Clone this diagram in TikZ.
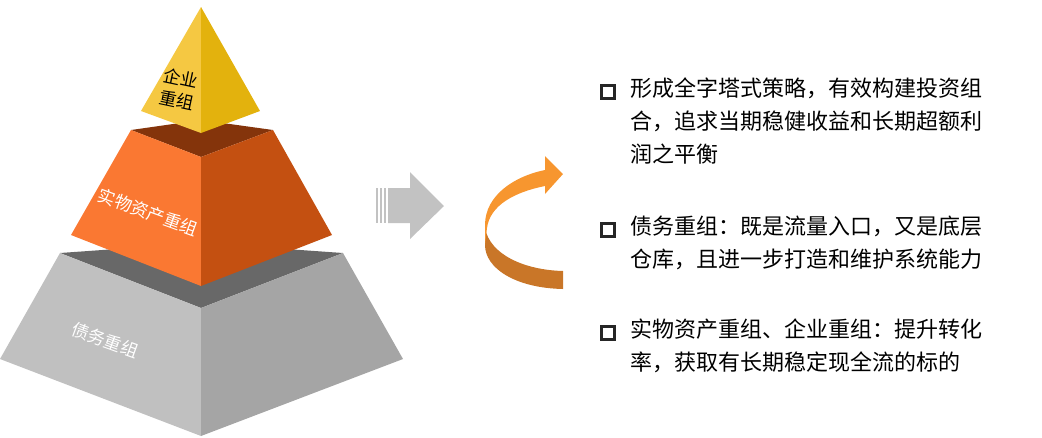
\documentclass[tikz,border=0pt]{standalone}
\usepackage{fontspec}
\newfontfamily\cjk{Noto Sans CJK SC}
\usetikzlibrary{positioning}
\definecolor{topL}{HTML}{F5C842}
\definecolor{topR}{HTML}{E3B20D}
\definecolor{midL}{HTML}{FA7832}
\definecolor{midR}{HTML}{C45011}
\definecolor{midD}{HTML}{84340B}
\definecolor{lowL}{HTML}{C0C0C0}
\definecolor{lowR}{HTML}{A5A5A5}
\definecolor{lowD}{HTML}{686868}
\definecolor{arrG}{HTML}{C2C2C2}
\definecolor{ringA}{HTML}{F7962F}
\definecolor{ringB}{HTML}{C97628}
\tikzset{
  layerlabel/.style={font=\cjk\fontsize{13}{17}\selectfont, align=center},
  point/.style={font=\cjk\fontsize{16.5}{25}\selectfont, align=left, anchor=north west, inner sep=0pt},
  tick/.style={draw=black!85, line width=2pt, minimum size=10pt, inner sep=0pt, anchor=center}
}
\begin{document}
\begin{tikzpicture}[x=0.75pt,y=-0.75pt]
  \useasboundingbox (0,0) rectangle (1042,437);

  % Bottom layer.
  \fill[lowD] (60,253) -- (201,243) -- (343,253) -- (201,308) -- cycle;
  \fill[lowL] (60,253) -- (201,308) -- (201,436) -- (0,359) -- cycle;
  \fill[lowR] (343,253) -- (201,308) -- (201,436) -- (403,359) -- cycle;

  % Middle layer.
  \fill[midD] (131,130) -- (201,120) -- (273,130) -- (201,157) -- cycle;
  \fill[midL] (131,130) -- (201,157) -- (201,286) -- (71,235) -- cycle;
  \fill[midR] (273,130) -- (201,157) -- (201,286) -- (332,235) -- cycle;

  % Top layer.
  \fill[topL] (201,7) -- (201,133) -- (141,111) -- cycle;
  \fill[topR] (201,7) -- (201,133) -- (260,111) -- cycle;

  % Layer labels.
  \node[layerlabel, rotate=-12] (qiye) at (179,89) {企业\\重组};
  \node[layerlabel, text=white, rotate=-20] (shiwu) at (148,212) {实物资产重组};
  \node[layerlabel, text=white, rotate=-20] (zhaiwu) at (105,340) {债务重组};

  % Gray arrow.
  \fill[arrG] (388,188) -- (410,188) -- (410,172) -- (444,206) -- (410,239) -- (410,223) -- (388,223) -- cycle;
  \foreach \xs in {376,380,384}
    \fill[arrG] (\xs,188) rectangle ++(2,35);

  % Curved arrow.
  \fill[ringB] (485,228) .. controls (490,255) and (525,270) .. (563,271)
    -- (563,289) .. controls (515,288) and (485,268) .. (485,245) -- cycle;
  \fill[ringA] (485,245) -- (485,225) .. controls (485,195) and (515,176) .. (545,170)
    -- (545,156) -- (563,174) -- (545,194) -- (545,186)
    .. controls (515,192) and (490,205) .. (487,228) -- cycle;

  % Bullet points.
  \node[tick] (b1) at (608,92) {};
  \node[point, right=11pt of b1.north east, anchor=north west, yshift=5pt] (t1)
    {形成全字塔式策略，有效构建投资组\\合，追求当期稳健收益和长期超额利\\润之平衡};
  \node[tick] (b2) at (608,230) {};
  \node[point, right=11pt of b2.north east, anchor=north west, yshift=5pt] (t2)
    {债务重组：既是流量入口，又是底层\\仓库，且进一步打造和维护系统能力};
  \node[tick] (b3) at (608,333) {};
  \node[point, right=11pt of b3.north east, anchor=north west, yshift=5pt] (t3)
    {实物资产重组、企业重组：提升转化\\率，获取有长期稳定现全流的标的};
\end{tikzpicture}
\end{document}
